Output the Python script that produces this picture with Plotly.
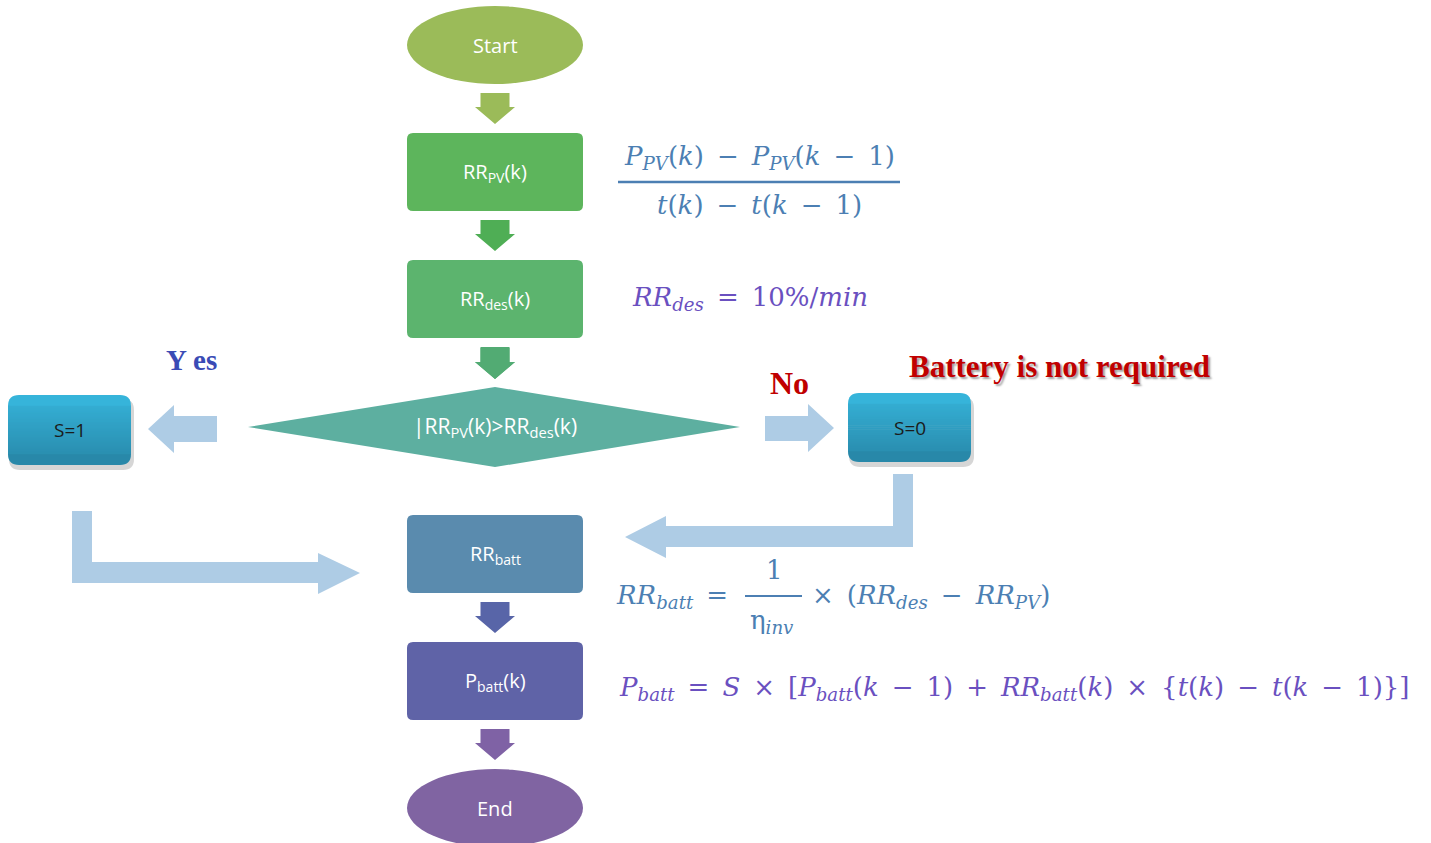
import plotly.graph_objects as go

W, H = 1431, 843

# ---- content (labels) ----
node_labels = ["Start", "RR<sub>PV</sub>(k)", "RR<sub>des</sub>(k)",
               "|RR<sub>PV</sub>(k)>RR<sub>des</sub>(k)",
               "RR<sub>batt</sub>", "P<sub>batt</sub>(k)", "End"]
side_labels = ["S=1", "S=0"]
branch_labels = ["Y es", "No", "Battery is not required"]
SP = "\u2002"
formula_pv_num = f"<i>P</i><sub><i>PV</i></sub>(<i>k</i>){SP}−{SP}<i>P</i><sub><i>PV</i></sub>(<i>k</i>{SP}−{SP}1)"
formula_pv_den = f"<i>t</i>(<i>k</i>){SP}−{SP}<i>t</i>(<i>k</i>{SP}−{SP}1)"
formula_des = f"<i>RR</i><sub><i>des</i></sub>{SP}={SP}10%/<i>min</i>"
formula_batt_l = f"<i>RR</i><sub><i>batt</i></sub>{SP}="
formula_batt_num = "1"
formula_batt_den = "η<sub><i>inv</i></sub>"
formula_batt_r = f"×{SP}(<i>RR</i><sub><i>des</i></sub>{SP}−{SP}<i>RR</i><sub><i>PV</i></sub>)"
formula_p = (f"<i>P</i><sub><i>batt</i></sub>{SP}={SP}<i>S</i>{SP}×{SP}[<i>P</i><sub><i>batt</i></sub>(<i>k</i>{SP}−{SP}1){SP}+{SP}"
             f"<i>RR</i><sub><i>batt</i></sub>(<i>k</i>){SP}×{SP}{{<i>t</i>(<i>k</i>){SP}−{SP}<i>t</i>(<i>k</i>{SP}−{SP}1)}}]")

# ---- layout geometry ----
node_cx = 495
node_cy = [45, 172, 299, 427, 554, 681, 808]
node_hw, node_hh = 88, 39
node_kind = ["ellipse", "box", "box", "diamond", "box", "box", "ellipse"]
node_colors = ["#9BBB59", "#5DB55C", "#5CB46E", "#5DAFA0", "#5A8BAE", "#5F63A7", "#8064A2"]
arrow_colors = ["#9BBB59", "#4FAE55", "#52AB73", None, "#5865A8", "#7F62A5"]

shapes = []
annotations = []


def rrect(x0, y0, x1, y1, r):
    return (f"M {x0+r},{y0} L {x1-r},{y0} Q {x1},{y0} {x1},{y0+r} L {x1},{y1-r} "
            f"Q {x1},{y1} {x1-r},{y1} L {x0+r},{y1} Q {x0},{y1} {x0},{y1-r} "
            f"L {x0},{y0+r} Q {x0},{y0} {x0+r},{y0} Z")


def poly(pts):
    return "M " + " L ".join(f"{x},{y}" for x, y in pts) + " Z"


def add_path(p, color, opacity=1.0):
    shapes.append(dict(type="path", path=p, xref="x", yref="y", fillcolor=color,
                       line=dict(width=0), opacity=opacity, layer="above"))


def add_rect(x0, y0, x1, y1, color):
    shapes.append(dict(type="rect", xref="x", yref="y", x0=x0, x1=x1, y0=y0, y1=y1,
                       fillcolor=color, line=dict(width=0), layer="above"))


def mix(c1, c2, t):
    a = [int(c1[i:i + 2], 16) for i in (1, 3, 5)]
    b = [int(c2[i:i + 2], 16) for i in (1, 3, 5)]
    return "#" + "".join(f"{round(a[k] + (b[k] - a[k]) * t):02x}" for k in range(3))


def down_arrow(cx, y0, y1, color):
    sw, hw, hl = 14.5, 20, 17
    pts = [(cx - sw, y0), (cx + sw, y0), (cx + sw, y1 - hl), (cx + hw, y1 - hl),
           (cx, y1), (cx - hw, y1 - hl), (cx - sw, y1 - hl)]
    add_path(poly(pts), color)


# main nodes
for i, (cy, kind, col) in enumerate(zip(node_cy, node_kind, node_colors)):
    x0, x1, y0, y1 = node_cx - node_hw, node_cx + node_hw, cy - node_hh, cy + node_hh
    if kind == "ellipse":
        shapes.append(dict(type="circle", xref="x", yref="y", x0=x0, x1=x1, y0=y0, y1=y1,
                           fillcolor=col, line=dict(width=0), layer="above"))
    elif kind == "box":
        add_path(rrect(x0, y0, x1, y1, 6), col)
    else:
        add_path(poly([(248, cy), (node_cx, cy - 40), (740, cy), (node_cx, cy + 40)]), col)
    annotations.append(dict(x=node_cx, y=cy, xref="x", yref="y", text=node_labels[i],
                            showarrow=False,
                            font=dict(family="Open Sans", size=20 if kind != "diamond" else 21,
                                      color="white")))

# down arrows between nodes
for i, col in enumerate(arrow_colors):
    if col is None:
        continue
    down_arrow(node_cx, node_cy[i] + node_hh + 9, node_cy[i + 1] - node_hh - 9, col)
down_arrow(node_cx, 348, 379, "#52AB73")

# side boxes S=1 / S=0 with vertical gradient
top_c, bot_c = "#36B4DA", "#2888A9"
side_boxes = [(8, 395, 131, 465), (848, 393, 971, 462)]
for (x0, y0, x1, y1), lab in zip(side_boxes, side_labels):
    r = 11
    add_path(rrect(x0 + 1, y0 + 4, x1 + 3, y1 + 5, r), "#8a8a8a", 0.35)
    add_path(rrect(x0, y1 - 2 * r, x1, y1, r), bot_c)
    add_path(rrect(x0, y0, x1, y0 + 2 * r, r), top_c)
    n = 24
    hgt = (y1 - y0 - 2 * r) / n
    for k in range(n):
        ya = y0 + r + k * hgt
        add_rect(x0, ya - 0.3, x1, ya + hgt + 0.3, mix(top_c, bot_c, (ya + hgt / 2 - y0) / (y1 - y0)))
    annotations.append(dict(x=(x0 + x1) / 2, y=(y0 + y1) / 2, xref="x", yref="y", text=lab,
                            showarrow=False, font=dict(family="Open Sans", size=19, color="#1b1b1b")))

light = "#AECCE5"
add_path(poly([(217, 416), (217, 442), (174, 442), (174, 453), (148, 429), (174, 405), (174, 416)]), light)
add_path(poly([(765, 416), (765, 441), (808, 441), (808, 452), (834, 428), (808, 404), (808, 416)]), light)
add_path(poly([(893, 474), (913, 474), (913, 547), (666, 547), (666, 558), (625, 537),
               (666, 516), (666, 526), (893, 526)]), light)
add_path(poly([(72, 511), (92, 511), (92, 562), (318, 562), (318, 553), (360, 573),
               (318, 594), (318, 583), (72, 583)]), light)

# branch labels
annotations.append(dict(x=191, y=360, xref="x", yref="y", text="<b>" + branch_labels[0] + "</b>",
                        showarrow=False, font=dict(family="Liberation Serif", size=29, color="#3A4BB5")))
annotations.append(dict(x=789, y=383, xref="x", yref="y", text="<b>" + branch_labels[1] + "</b>",
                        showarrow=False, font=dict(family="Liberation Serif", size=32, color="#C00000")))
annotations.append(dict(x=1059, y=366, xref="x", yref="y", text="<b>" + branch_labels[2] + "</b>",
                        showarrow=False, font=dict(family="Liberation Serif", size=31, color="#C00000",
                                                   shadow="2px 2px 2px #a0a0a0")))

# formulas
blue = "#4C7FB3"
purple = "#6A50C0"
fm = "DejaVu Serif"
fs = 26
annotations.append(dict(x=759, y=157, xref="x", yref="y", text=formula_pv_num, showarrow=False,
                        font=dict(family=fm, size=fs, color=blue)))
annotations.append(dict(x=759, y=205, xref="x", yref="y", text=formula_pv_den, showarrow=False,
                        font=dict(family=fm, size=fs, color=blue)))
shapes.append(dict(type="line", xref="x", yref="y", x0=618, x1=900, y0=182, y1=182,
                   line=dict(color=blue, width=2.5)))
annotations.append(dict(x=630, y=298, xref="x", yref="y", xanchor="left", text=formula_des, showarrow=False,
                        font=dict(family=fm, size=fs, color=purple)))
annotations.append(dict(x=614, y=596, xref="x", yref="y", xanchor="left", text=formula_batt_l, showarrow=False,
                        font=dict(family=fm, size=fs, color=blue)))
annotations.append(dict(x=774, y=570, xref="x", yref="y", text=formula_batt_num, showarrow=False,
                        font=dict(family=fm, size=fs, color=blue)))
annotations.append(dict(x=772, y=621, xref="x", yref="y", text=formula_batt_den, showarrow=False,
                        font=dict(family=fm, size=fs, color=blue)))
shapes.append(dict(type="line", xref="x", yref="y", x0=745, x1=802, y0=596, y1=596,
                   line=dict(color=blue, width=2)))
annotations.append(dict(x=810, y=596, xref="x", yref="y", xanchor="left", text=formula_batt_r, showarrow=False,
                        font=dict(family=fm, size=fs, color=blue)))
annotations.append(dict(x=617, y=688, xref="x", yref="y", xanchor="left", text=formula_p, showarrow=False,
                        font=dict(family=fm, size=fs, color=purple)))

fig = go.Figure()
fig.add_trace(go.Scatter(x=[0, W], y=[0, H], mode="markers", marker=dict(opacity=0),
                         hoverinfo="skip", showlegend=False))
fig.update_layout(width=W, height=H, margin=dict(l=0, r=0, t=0, b=0),
                  paper_bgcolor="white", plot_bgcolor="white",
                  xaxis=dict(range=[0, W], visible=False, fixedrange=True),
                  yaxis=dict(range=[H, 0], visible=False, fixedrange=True),
                  shapes=shapes, annotations=annotations, showlegend=False)
fig.write_html("out.html", config={"displayModeBar": False},
               post_script="document.body.style.margin='0';document.body.style.overflow='hidden';")
